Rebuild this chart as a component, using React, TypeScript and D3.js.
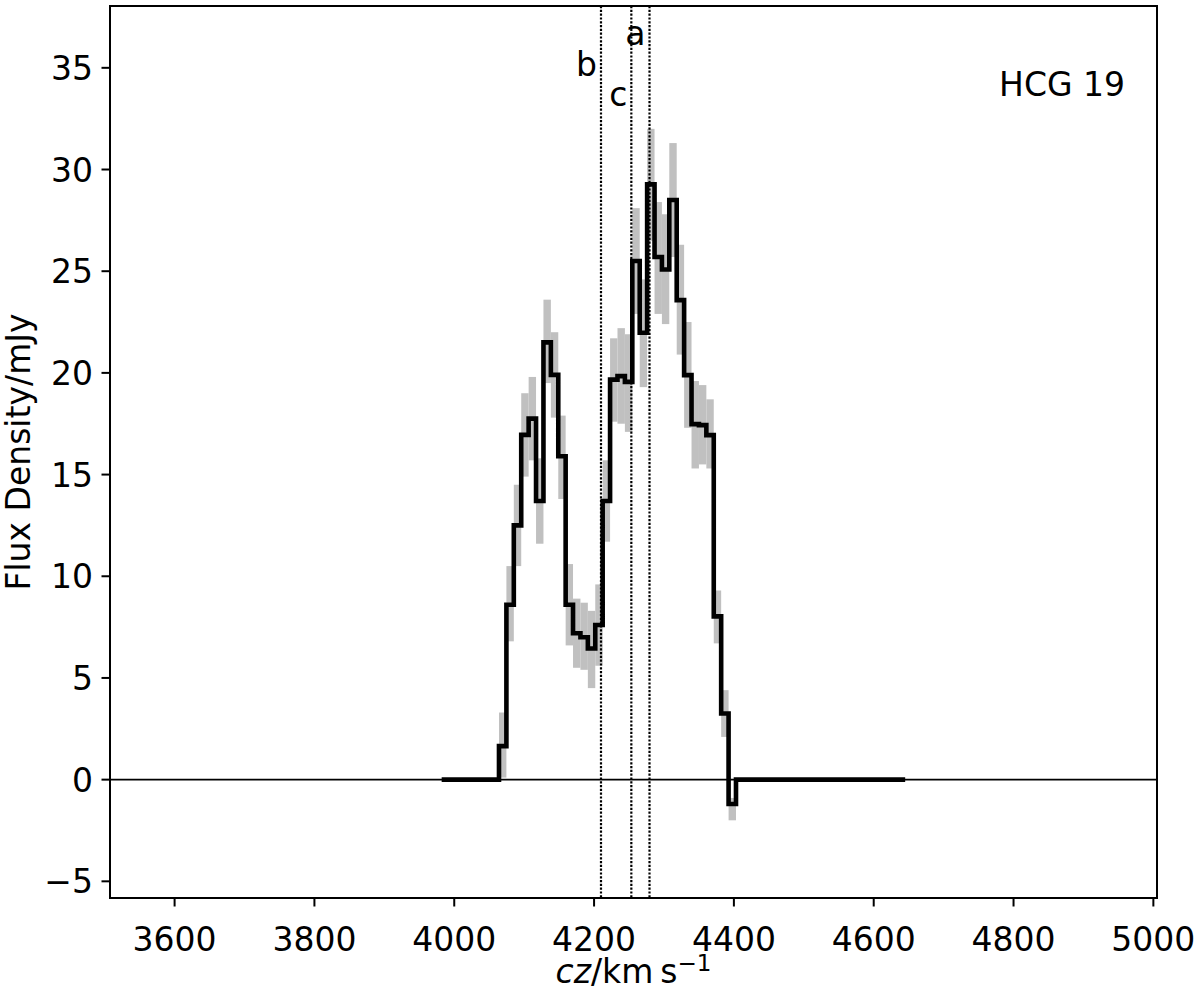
import React from "react";
import * as d3 from "d3";

// Channel centre velocities (km/s) of the emission channels
const channelVelocity = [
  4069.3, 4079.9, 4090.5, 4101.1, 4111.7, 4122.3, 4132.9, 4143.5, 4154.1, 4164.6,
  4175.2, 4185.8, 4196.4, 4207.0, 4217.6, 4228.2, 4238.8, 4249.4, 4260.0, 4270.6,
  4281.2, 4291.8, 4302.3, 4312.9, 4323.5, 4334.1, 4344.7, 4355.3, 4365.9, 4376.5,
  4387.1, 4397.7,
];
// Flux density per channel (mJy)
const fluxDensity = [
  1.65, 8.6, 12.5, 16.95, 17.75, 13.7, 21.5, 19.9, 15.9, 8.6,
  7.2, 7.0, 6.45, 7.6, 13.7, 19.67, 19.84, 19.56, 25.5, 21.97,
  29.27, 25.7, 25.08, 28.5, 23.58, 19.89, 17.48, 17.43, 16.94, 8.03,
  3.25, -1.2,
];
// Uncertainty band (mJy)
const fluxLower = [
  0.1, 6.8, 10.5, 14.9, 15.7, 11.6, 19.5, 17.8, 13.8, 6.6,
  5.5, 5.4, 4.5, 5.6, 11.7, 17.6, 17.5, 17.1, 22.9, 19.3,
  26.5, 22.9, 22.4, 25.7, 20.9, 17.3, 15.3, 15.5, 15.3, 6.7,
  2.1, -2.0,
];
const fluxUpper = [
  3.3, 10.5, 14.5, 19.0, 19.8, 15.8, 23.6, 22.0, 17.9, 10.6,
  8.9, 8.7, 8.3, 9.6, 15.7, 21.7, 22.2, 21.9, 28.1, 24.6,
  32.0, 28.4, 27.8, 31.3, 26.3, 22.5, 19.6, 19.4, 18.7, 9.3,
  4.4, -0.9,
];
// Velocity range over which the (zero-padded) spectrum is drawn
const spectrumRange = [3982, 4645];

// Galaxy velocities marked by dotted lines
const galaxyLabels = ["b", "c", "a"];
const galaxyVelocity = [4209.9, 4253.3, 4279.3];
const galaxyLabelY = [34.6, 33.1, 36.1];

const xTicks = [3600, 3800, 4000, 4200, 4400, 4600, 4800, 5000];
const yTicks = [-5, 0, 5, 10, 15, 20, 25, 30, 35];
const xDomain = [3507.6, 5005.2];
const yDomain = [-5.82, 38.04];
const title = "HCG 19";

const W = 1200;
const H = 992;
const M = { left: 110, right: 1157, top: 6, bottom: 898 };
const FONT = "'DejaVu Sans', sans-serif";
const FS = 33;

export default function App() {
  React.useEffect(() => {
    document.body.style.margin = "0";
  }, []);

  const x = d3.scaleLinear().domain(xDomain).range([M.left, M.right]);
  const y = d3.scaleLinear().domain(yDomain).range([M.bottom, M.top]);

  // channel edges from centres
  const n = channelVelocity.length;
  const edges: number[] = [];
  for (let i = 0; i <= n; i++) {
    if (i === 0) edges.push(channelVelocity[0] - (channelVelocity[1] - channelVelocity[0]) / 2);
    else if (i === n) edges.push(channelVelocity[n - 1] + (channelVelocity[n - 1] - channelVelocity[n - 2]) / 2);
    else edges.push((channelVelocity[i - 1] + channelVelocity[i]) / 2);
  }

  const pts: [number, number][] = [];
  pts.push([spectrumRange[0], 0]);
  pts.push([edges[0], 0]);
  for (let i = 0; i < n; i++) {
    pts.push([edges[i], fluxDensity[i]]);
    pts.push([edges[i + 1], fluxDensity[i]]);
  }
  pts.push([edges[n], 0]);
  pts.push([spectrumRange[1], 0]);

  const line = d3
    .line<[number, number]>()
    .x((d) => x(d[0]))
    .y((d) => y(d[1]));

  return (
    <svg width={W} height={H} style={{ display: "block", background: "#fff" }} fontFamily={FONT}>
      <defs>
        <clipPath id="plotclip">
          <rect x={M.left} y={M.top} width={M.right - M.left} height={M.bottom - M.top} />
        </clipPath>
      </defs>
      <g clipPath="url(#plotclip)">
        {channelVelocity.map((v, i) => (
          <rect
            key={"e" + i}
            x={x(edges[i])}
            width={x(edges[i + 1]) - x(edges[i])}
            y={y(fluxUpper[i])}
            height={y(fluxLower[i]) - y(fluxUpper[i])}
            fill="#c0c0c0"
          />
        ))}
        {galaxyVelocity.map((v, i) => (
          <line
            key={"g" + i}
            x1={x(v)}
            x2={x(v)}
            y1={M.top}
            y2={M.bottom}
            stroke="#000"
            strokeWidth={2.2}
            strokeDasharray="2.2,1.6"
          />
        ))}
        <line x1={M.left} x2={M.right} y1={y(0)} y2={y(0)} stroke="#000" strokeWidth={1.6} />
        <path d={line(pts) || ""} fill="none" stroke="#000" strokeWidth={4.6} strokeLinejoin="miter" />
      </g>
      {galaxyVelocity.map((v, i) => (
        <text key={"gl" + i} x={x(v) - 4} y={y(galaxyLabelY[i])} fontSize={FS} textAnchor="end">
          {galaxyLabels[i]}
        </text>
      ))}
      <text x={1125} y={96} fontSize={FS} textAnchor="end">
        {title}
      </text>
      {/* axes frame */}
      <rect
        x={M.left}
        y={M.top}
        width={M.right - M.left}
        height={M.bottom - M.top}
        fill="none"
        stroke="#000"
        strokeWidth={2}
      />
      {xTicks.map((t) => (
        <g key={"xt" + t}>
          <line x1={x(t)} x2={x(t)} y1={M.bottom} y2={M.bottom + 8.5} stroke="#000" strokeWidth={2} />
          <text x={x(t)} y={951} fontSize={FS} textAnchor="middle">
            {t}
          </text>
        </g>
      ))}
      {yTicks.map((t) => (
        <g key={"yt" + t}>
          <line x1={M.left} x2={M.left - 8.5} y1={y(t)} y2={y(t)} stroke="#000" strokeWidth={2} />
          <text x={93} y={y(t) + 12} fontSize={FS} textAnchor="end">
            {t < 0 ? "\u2212" + Math.abs(t) : t}
          </text>
        </g>
      ))}
      <text
        transform={`translate(30, ${(M.top + M.bottom) / 2}) rotate(-90)`}
        fontSize={FS}
        textAnchor="middle"
      >
        Flux Density/mJy
      </text>
      <text x={(M.left + M.right) / 2} y={983} fontSize={FS} textAnchor="middle">
        <tspan fontStyle="italic">cz</tspan>
        <tspan>/km</tspan>
        <tspan dx={7}>s</tspan>
        <tspan fontSize={23} dy={-12}>{"\u22121"}</tspan>
      </text>
    </svg>
  );
}
